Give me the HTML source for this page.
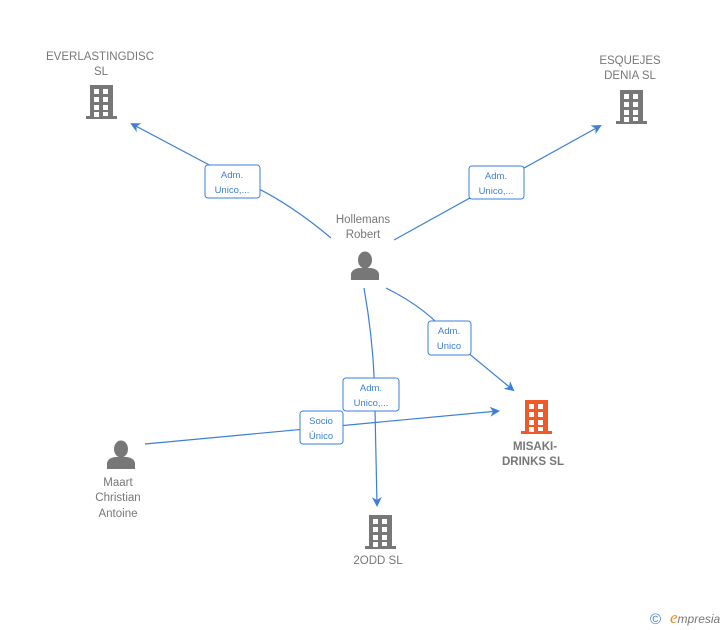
<!DOCTYPE html>
<html><head><meta charset="utf-8"><style>
html,body{margin:0;padding:0;background:#fff;}
svg{display:block;font-family:"Liberation Sans",Arial,sans-serif;}
.t{fill:#777;font-size:11.5px;text-anchor:middle;}
.b{fill:#777;font-size:11.5px;text-anchor:middle;font-weight:bold;}
.l{fill:#3b7fd9;font-size:9.5px;text-anchor:middle;}
.e{stroke:#3b7fd9;stroke-width:1.2;fill:none;}
.box{fill:#fff;stroke:#3b7fd9;stroke-width:1;}
</style></head><body>
<svg width="728" height="630" viewBox="0 0 728 630">
<defs>
<g id="bld">
<rect x="-11" y="0" width="23" height="32"/>
<rect x="-15" y="31" width="31" height="3"/>
<g fill="#fff">
<rect x="-7" y="4" width="5" height="5"/><rect x="2" y="4" width="5" height="5"/>
<rect x="-7" y="12" width="5" height="5"/><rect x="2" y="12" width="5" height="5"/>
<rect x="-7" y="20" width="5" height="5"/><rect x="2" y="20" width="5" height="5"/>
<rect x="-7" y="27" width="5" height="5"/><rect x="2" y="27" width="5" height="4"/>
</g>
</g>
<g id="per">
<ellipse cx="0" cy="8" rx="7" ry="8.5"/>
<path d="M-14 28 L-14 22 Q-13 17 -6 16 L6 16 Q13 17 14 22 L14 28 Z"/>
</g>
<marker id="a" markerWidth="10" markerHeight="10" refX="8" refY="5" orient="auto" markerUnits="userSpaceOnUse"><path d="M0 0 L10 5 L0 10 L3 5 Z" fill="#3b7fd9"/></marker>
</defs>

<path class="e" d="M331 238 Q280 195 230 176 L132 124" marker-end="url(#a)"/>
<path class="e" d="M394 240 L600 126" marker-end="url(#a)"/>
<path class="e" d="M386 288 Q430 310 450 338 L513 390" marker-end="url(#a)"/>
<path class="e" d="M364 288 Q375 350 375 410 L377 505" marker-end="url(#a)"/>
<path class="e" d="M145 444 L498 411" marker-end="url(#a)"/>

<rect class="box" x="205" y="165" width="55" height="33" rx="3"/>
<text class="l" x="232" y="178">Adm.</text><text class="l" x="232" y="193">Unico,...</text>
<rect class="box" x="469" y="166" width="55" height="33" rx="3"/>
<text class="l" x="496" y="179">Adm.</text><text class="l" x="496" y="194">Unico,...</text>
<rect class="box" x="428" y="321" width="43" height="34" rx="3"/>
<text class="l" x="449" y="334">Adm.</text><text class="l" x="449" y="349">Unico</text>
<rect class="box" x="343" y="378" width="56" height="33" rx="3"/>
<text class="l" x="371" y="391">Adm.</text><text class="l" x="371" y="406">Unico,...</text>
<rect class="box" x="300" y="411" width="43" height="33" rx="3"/>
<text class="l" x="321" y="424">Socio</text><text class="l" x="321" y="439">Único</text>

<text class="t" x="100" y="60">EVERLASTINGDISC</text><text class="t" x="101" y="75">SL</text>
<use href="#bld" x="101" y="85" fill="#777"/>
<text class="t" x="630" y="64">ESQUEJES</text><text class="t" x="630" y="79">DENIA  SL</text>
<use href="#bld" x="631" y="90" fill="#777"/>
<text class="t" x="363" y="223">Hollemans</text><text class="t" x="363" y="238">Robert</text>
<use href="#per" x="365" y="252" fill="#777"/>
<use href="#bld" x="536" y="400" fill="#f05a28"/>
<text class="b" x="535" y="450">MISAKI-</text><text class="b" x="533" y="465">DRINKS  SL</text>
<use href="#per" x="121" y="441" fill="#777"/>
<text class="t" x="118" y="486">Maart</text><text class="t" x="118" y="501">Christian</text><text class="t" x="118" y="517">Antoine</text>
<use href="#bld" x="380" y="515" fill="#777"/>
<text class="t" x="378" y="564">2ODD SL</text>

<text x="650" y="624" fill="#3b7fd9" font-size="15">©</text>
<text x="670" y="623" fill="#777" font-size="12" font-style="italic"><tspan fill="#f08a1c" font-size="17" font-family="Liberation Serif,serif">e</tspan>mpresia</text>
</svg>
</body></html>
